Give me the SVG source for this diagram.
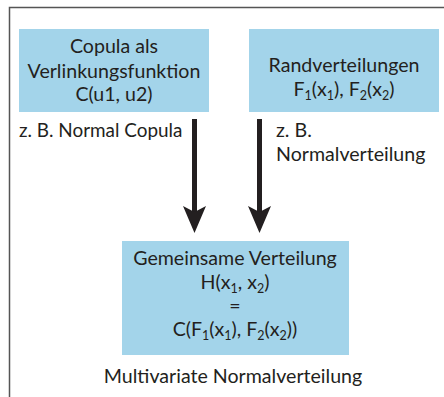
<svg xmlns="http://www.w3.org/2000/svg" width="444" height="397" viewBox="0 0 444 397">
<style>
.box{fill:#a3d4ea}
text{font-family:Lato,"Liberation Sans",sans-serif;font-size:19.6px;fill:#231f20;text-anchor:middle}
.l{text-anchor:start}
.sm{font-size:18.9px}
.sub{font-size:12.5px}
.arr{stroke:#231f20;stroke-width:5;fill:none}
.head{fill:#231f20}
</style>
<rect width="444" height="397" fill="#fff"/>
<path d="M9.5 397V7.5H444" fill="none" stroke="#555" stroke-width="1.5"/>
<g id="copula">
<rect class="box" x="19" y="29" width="190" height="83"/>
<text x="114" y="53">Copula als</text>
<text x="114" y="78">Verlinkungsfunktion</text>
<text x="114" y="101">C(u1, u2)</text>
</g>
<g id="rand">
<rect class="box" x="249" y="29" width="190" height="83"/>
<text x="344" y="72">Randverteilungen</text>
<text x="344" y="96">F<tspan class="sub" dy="3.5">1</tspan><tspan dy="-3.5">(x</tspan><tspan class="sub" dy="3.5">1</tspan><tspan dy="-3.5">), F</tspan><tspan class="sub" dy="3.5">2</tspan><tspan dy="-3.5">(x</tspan><tspan class="sub" dy="3.5">2</tspan><tspan dy="-3.5">)</tspan></text>
</g>
<g id="gemeinsam">
<rect class="box" x="122" y="241" width="227" height="114"/>
<text x="235" y="265">Gemeinsame Verteilung</text>
<text x="235" y="289">H(x<tspan class="sub" dy="3.5">1</tspan><tspan dy="-3.5">, x</tspan><tspan class="sub" dy="3.5">2</tspan><tspan dy="-3.5">)</tspan></text>
<text x="235" y="313">=</text>
<text x="235" y="336">C(F<tspan class="sub" dy="3.5">1</tspan><tspan dy="-3.5">(x</tspan><tspan class="sub" dy="3.5">1</tspan><tspan dy="-3.5">), F</tspan><tspan class="sub" dy="3.5">2</tspan><tspan dy="-3.5">(x</tspan><tspan class="sub" dy="3.5">2</tspan><tspan dy="-3.5">))</tspan></text>
</g>
<g id="labels">
<text class="l sm" x="19" y="137">z. B. Normal Copula</text>
<text class="l" x="276" y="137">z. B.</text>
<text class="l" x="276" y="161">Normalverteilung</text>
<text x="233" y="383">Multivariate Normalverteilung</text>
</g>
<g id="connectors">
<line class="arr" x1="194.5" y1="119" x2="194.5" y2="212"/>
<path class="head" d="M183 206L194.5 233L206 206L194.5 212Z"/>
<line class="arr" x1="259.5" y1="119" x2="259.5" y2="212"/>
<path class="head" d="M248 206L259.5 233L271 206L259.5 212Z"/>
</g>
</svg>
